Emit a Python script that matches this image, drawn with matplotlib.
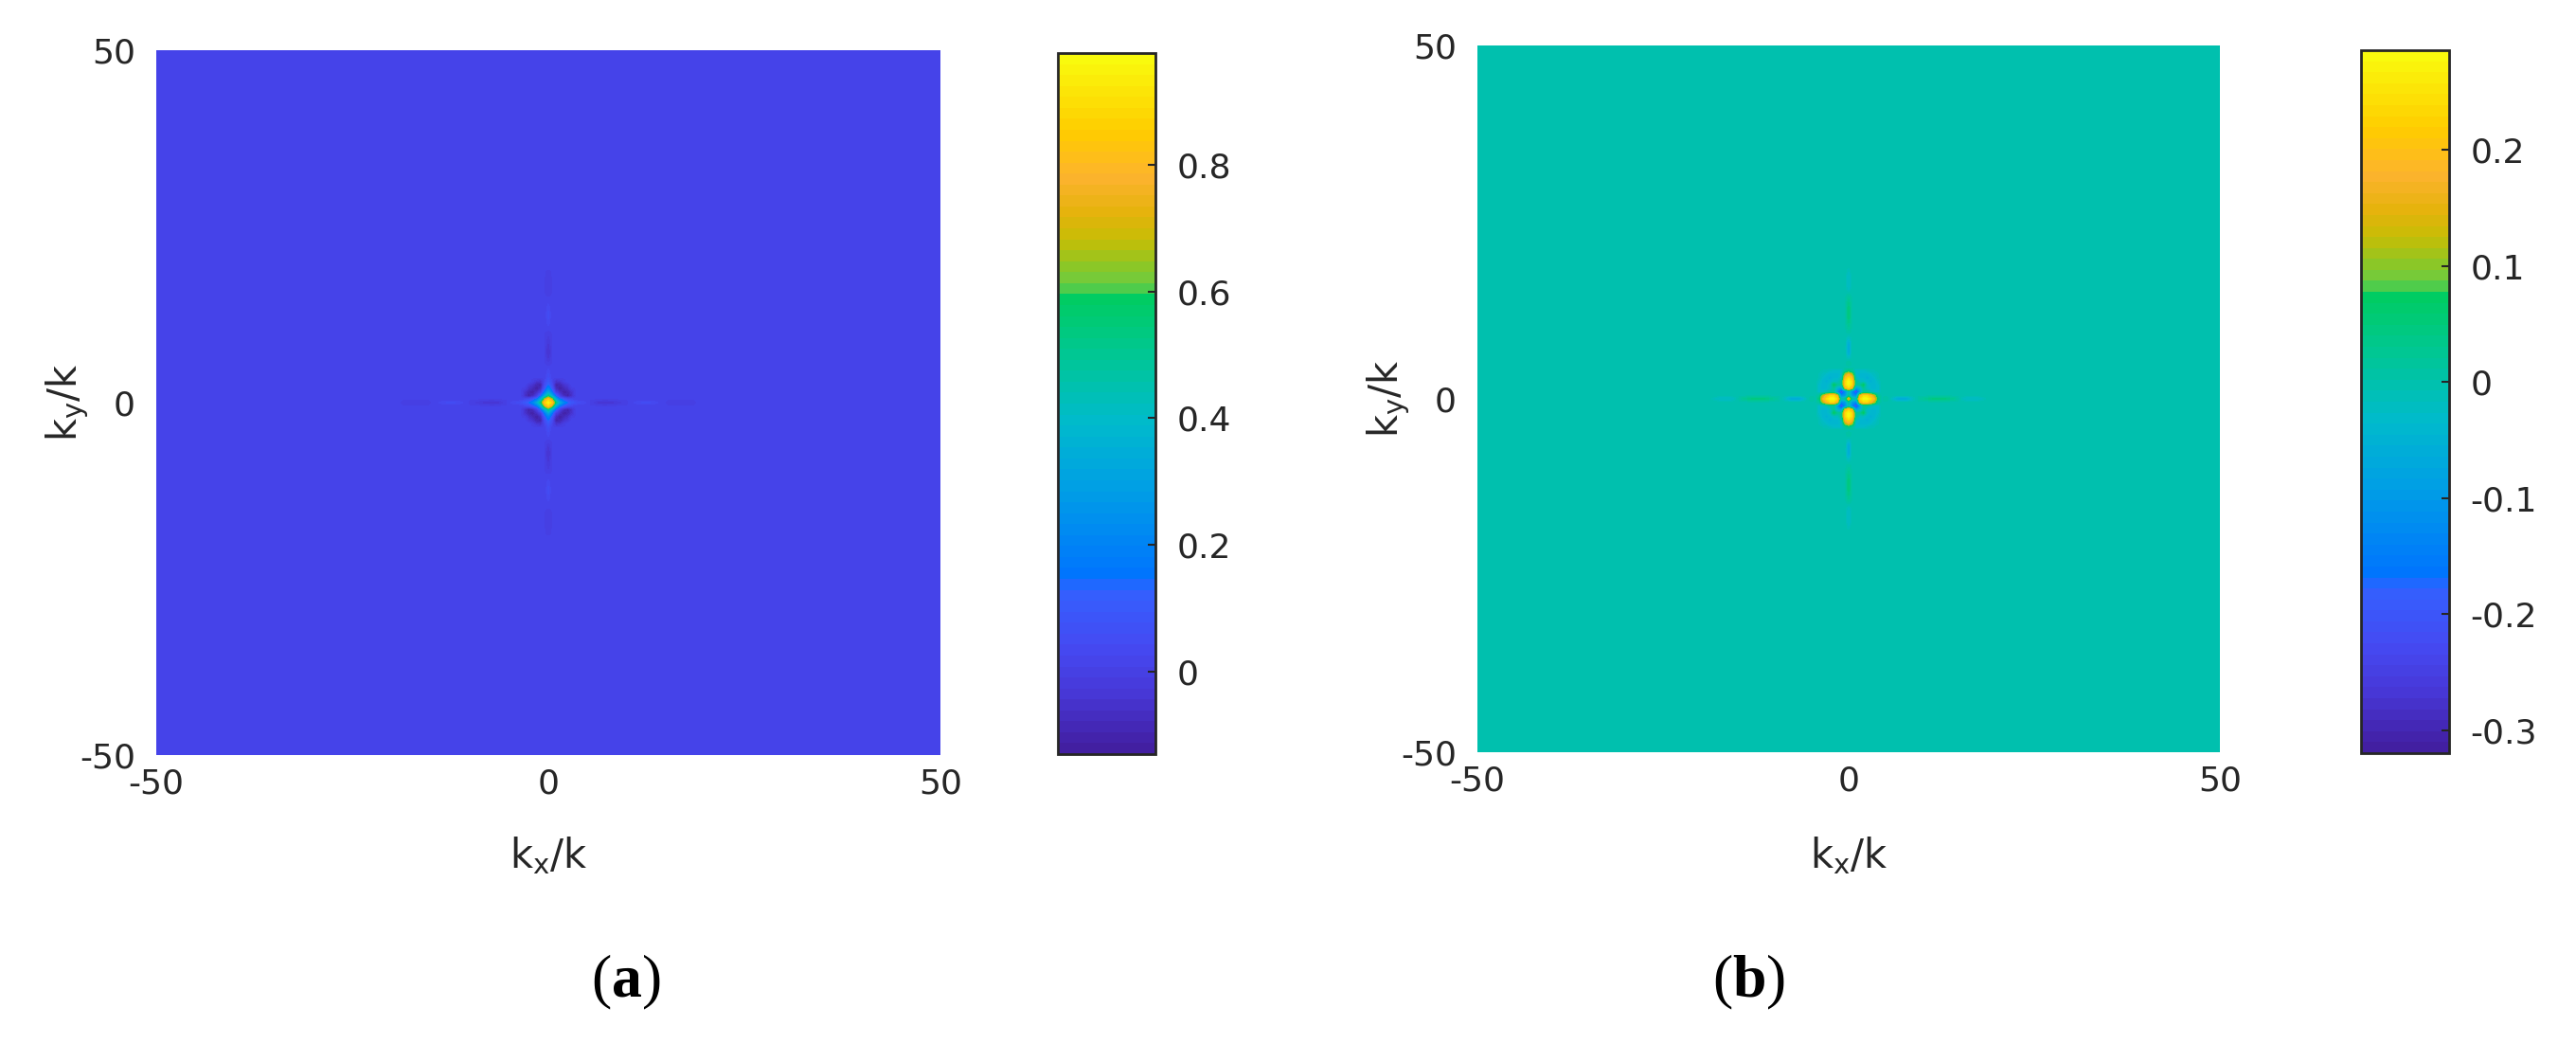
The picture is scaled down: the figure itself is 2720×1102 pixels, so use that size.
import numpy as np
import matplotlib
matplotlib.use('Agg')
import matplotlib.pyplot as plt
from matplotlib.colors import LinearSegmentedColormap

# ---- data ----
step = 0.5                      # grid spacing in k/k units
k_ticks = [-50, 0, 50]

# panel (a): background level, central 13x13 patch (y from +3 to -3), cross arms
bg_a = 0.01
clim_a = (-0.13, 0.976)
cbar_ticks_a = [0, 0.2, 0.4, 0.6, 0.8]
patch_a = [
    [0.02, 0.02, 0.00, -0.04, -0.05, 0.03, 0.10, 0.03, -0.05, -0.04, 0.00, 0.02, 0.02],
    [0.02, -0.02, -0.05, -0.09, -0.10, 0.05, 0.15, 0.05, -0.10, -0.09, -0.05, -0.02, 0.02],
    [0.00, -0.05, -0.08, -0.11, -0.07, 0.10, 0.22, 0.10, -0.07, -0.11, -0.08, -0.05, 0.00],
    [-0.04, -0.09, -0.11, -0.06, 0.00, 0.18, 0.35, 0.18, 0.00, -0.06, -0.11, -0.09, -0.04],
    [-0.05, -0.10, -0.07, 0.00, 0.14, 0.35, 0.55, 0.35, 0.14, 0.00, -0.07, -0.10, -0.05],
    [0.03, 0.05, 0.10, 0.18, 0.35, 0.70, 0.88, 0.70, 0.35, 0.18, 0.10, 0.05, 0.03],
    [0.10, 0.15, 0.22, 0.35, 0.55, 0.88, 0.975, 0.88, 0.55, 0.35, 0.22, 0.15, 0.10],
    [0.03, 0.05, 0.10, 0.18, 0.35, 0.70, 0.88, 0.70, 0.35, 0.18, 0.10, 0.05, 0.03],
    [-0.05, -0.10, -0.07, 0.00, 0.14, 0.35, 0.55, 0.35, 0.14, 0.00, -0.07, -0.10, -0.05],
    [-0.04, -0.09, -0.11, -0.06, 0.00, 0.18, 0.35, 0.18, 0.00, -0.06, -0.11, -0.09, -0.04],
    [0.00, -0.05, -0.08, -0.11, -0.07, 0.10, 0.22, 0.10, -0.07, -0.11, -0.08, -0.05, 0.00],
    [0.02, -0.02, -0.05, -0.09, -0.10, 0.05, 0.15, 0.05, -0.10, -0.09, -0.05, -0.02, 0.02],
    [0.02, 0.02, 0.00, -0.04, -0.05, 0.03, 0.10, 0.03, -0.05, -0.04, 0.00, 0.02, 0.02],
]
arm_pos_a = [3.5, 4.0, 4.5, 5.0, 5.5, 6.0, 6.5, 7.0, 7.5, 8.0, 8.5, 9.0, 9.5, 10.0,
             10.5, 11.0, 11.5, 12.0, 12.5, 13.0, 13.5, 14.0, 14.5, 15.0, 15.5, 16.0,
             16.5, 17.0, 17.5, 18.0, 18.5, 19.0, 19.5, 20.0]
arm_val_a = [0.07, 0.05, 0.04, 0.02, 0.00, -0.02, -0.04, -0.05, -0.05, -0.04, -0.03, -0.02,
             -0.01, 0.00, 0.02, 0.03, 0.04, 0.05, 0.05, 0.05, 0.04, 0.03, 0.02, 0.01, 0.00,
             -0.01, -0.01, -0.01, -0.01, 0.00, 0.00, 0.01, 0.01, 0.01]

# panel (b): central 17x17 patch (y from +4 to -4), cross arms
bg_b = 0.0
clim_b = (-0.32, 0.286)
cbar_ticks_b = [-0.3, -0.2, -0.1, 0, 0.1, 0.2]
patch_b = [
    [0.00, -0.01, -0.01, -0.02, -0.03, -0.03, -0.03, 0.02, 0.05, 0.02, -0.03, -0.03, -0.03, -0.02, -0.01, -0.01, 0.00],
    [-0.01, -0.02, -0.03, -0.04, -0.04, -0.04, -0.03, 0.12, 0.18, 0.12, -0.03, -0.04, -0.04, -0.04, -0.03, -0.02, -0.01],
    [-0.01, -0.03, -0.04, -0.05, -0.04, -0.04, -0.01, 0.19, 0.25, 0.19, -0.01, -0.04, -0.04, -0.05, -0.04, -0.03, -0.01],
    [-0.02, -0.04, -0.05, -0.04, -0.02, -0.02, 0.02, 0.24, 0.285, 0.24, 0.02, -0.02, -0.02, -0.04, -0.05, -0.04, -0.02],
    [-0.03, -0.04, -0.04, -0.02, 0.08, 0.02, 0.02, 0.24, 0.285, 0.24, 0.02, 0.02, 0.08, -0.02, -0.04, -0.04, -0.03],
    [-0.03, -0.04, -0.04, -0.02, 0.02, -0.05, -0.08, 0.17, 0.24, 0.17, -0.08, -0.05, 0.02, -0.02, -0.04, -0.04, -0.03],
    [-0.03, -0.03, -0.01, 0.02, 0.02, -0.08, -0.22, -0.12, 0.00, -0.12, -0.22, -0.08, 0.02, 0.02, -0.01, -0.03, -0.03],
    [0.02, 0.12, 0.19, 0.24, 0.24, 0.17, -0.12, -0.10, 0.03, -0.10, -0.12, 0.17, 0.24, 0.24, 0.19, 0.12, 0.02],
    [0.05, 0.18, 0.25, 0.285, 0.285, 0.24, 0.00, 0.03, 0.19, 0.03, 0.00, 0.24, 0.285, 0.285, 0.25, 0.18, 0.05],
    [0.02, 0.12, 0.19, 0.24, 0.24, 0.17, -0.12, -0.10, 0.03, -0.10, -0.12, 0.17, 0.24, 0.24, 0.19, 0.12, 0.02],
    [-0.03, -0.03, -0.01, 0.02, 0.02, -0.08, -0.22, -0.12, 0.00, -0.12, -0.22, -0.08, 0.02, 0.02, -0.01, -0.03, -0.03],
    [-0.03, -0.04, -0.04, -0.02, 0.02, -0.05, -0.08, 0.17, 0.24, 0.17, -0.08, -0.05, 0.02, -0.02, -0.04, -0.04, -0.03],
    [-0.03, -0.04, -0.04, -0.02, 0.08, 0.02, 0.02, 0.24, 0.285, 0.24, 0.02, 0.02, 0.08, -0.02, -0.04, -0.04, -0.03],
    [-0.02, -0.04, -0.05, -0.04, -0.02, -0.02, 0.02, 0.24, 0.285, 0.24, 0.02, -0.02, -0.02, -0.04, -0.05, -0.04, -0.02],
    [-0.01, -0.03, -0.04, -0.05, -0.04, -0.04, -0.01, 0.19, 0.25, 0.19, -0.01, -0.04, -0.04, -0.05, -0.04, -0.03, -0.01],
    [-0.01, -0.02, -0.03, -0.04, -0.04, -0.04, -0.03, 0.12, 0.18, 0.12, -0.03, -0.04, -0.04, -0.04, -0.03, -0.02, -0.01],
    [0.00, -0.01, -0.01, -0.02, -0.03, -0.03, -0.03, 0.02, 0.05, 0.02, -0.03, -0.03, -0.03, -0.02, -0.01, -0.01, 0.00],
]
arm_pos_b = [4.5, 5.0, 5.5, 6.0, 6.5, 7.0, 7.5, 8.0, 8.5, 9.0, 9.5, 10.0, 10.5, 11.0,
             11.5, 12.0, 12.5, 13.0, 13.5, 14.0, 14.5, 15.0, 15.5, 16.0, 16.5, 17.0,
             17.5, 18.0, 18.5, 19.0]
arm_val_b = [0.00, 0.01, 0.00, -0.03, -0.06, -0.07, -0.07, -0.06, -0.03, -0.01, 0.01, 0.02,
             0.03, 0.04, 0.05, 0.05, 0.05, 0.05, 0.04, 0.03, 0.02, 0.00, -0.02, -0.03,
             -0.03, -0.03, -0.03, -0.02, -0.01, 0.00]

# ---- colormap (parula-like, as it appears in the colour bars) ----
cmap_pts = [
    (0.000, (0.26, 0.12, 0.63)), (0.084, (0.28, 0.22, 0.85)), (0.149, (0.27, 0.29, 0.95)),
    (0.233, (0.20, 0.38, 1.00)), (0.246, (0.00, 0.45, 1.00)), (0.375, (0.00, 0.62, 0.90)),
    (0.473, (0.00, 0.73, 0.80)), (0.570, (0.00, 0.78, 0.58)), (0.655, (0.00, 0.80, 0.38)),
    (0.670, (0.40, 0.80, 0.27)), (0.699, (0.55, 0.78, 0.15)), (0.738, (0.78, 0.74, 0.02)),
    (0.777, (0.90, 0.70, 0.05)), (0.828, (0.99, 0.70, 0.18)), (0.893, (1.00, 0.80, 0.00)),
    (1.000, (0.976, 0.98, 0.05)),
]
parula = LinearSegmentedColormap.from_list('parula_like', cmap_pts, N=64)

plt.rcParams['font.family'] = ['DejaVu Sans']
plt.rcParams['axes.unicode_minus'] = False
plt.rcParams['mathtext.fontset'] = 'custom'
plt.rcParams['mathtext.default'] = 'regular'
plt.rcParams['mathtext.bf'] = 'Liberation Serif:bold'

W, H = 2720, 1102
fig = plt.figure(figsize=(W / 100, H / 100), dpi=100)
txt_col = (0.15, 0.15, 0.15)
fs = 26          # tick labels
fs_lab = 30      # axis labels


def px_rect(x0, y0, x1, y1):
    return [x0 / W, 1 - y1 / H, (x1 - x0) / W, (y1 - y0) / H]


n = int(round(100 / step)) + 1
c = n // 2


def panel(ax_px, cax_px, patch, bg, arm_pos, arm_val, clim, cticks, tag, tag_x):
    field = np.full((n, n), bg)
    p = np.array(patch)
    h = p.shape[0] // 2
    field[c - h:c + h + 1, c - h:c + h + 1] = p
    for pos, v in zip(arm_pos, arm_val):
        k = int(round(pos / step))
        field[c, c + k] = v
        field[c, c - k] = v
        field[c + k, c] = v
        field[c - k, c] = v

    ax = fig.add_axes(px_rect(*ax_px))
    im = ax.imshow(field, extent=[-50, 50, -50, 50], origin='upper', cmap=parula,
                   vmin=clim[0], vmax=clim[1], interpolation='bilinear', aspect='auto')
    ax.set_xticks(k_ticks)
    ax.set_yticks(k_ticks)
    ax.tick_params(axis='x', length=0, pad=10, labelsize=fs, labelcolor=txt_col)
    ax.tick_params(axis='y', length=0, pad=16, labelsize=fs, labelcolor=txt_col)
    for s in ax.spines.values():
        s.set_visible(False)

    x0, y0, x1, y1 = ax_px
    fig.text((x0 + x1) / 2 / W, 1 - 916 / H, 'k$_x$/k', ha='center', va='baseline',
             fontsize=fs_lab, color=txt_col)
    fig.text((x0 - 84) / W, 1 - (y0 + y1) / 2 / H, 'k$_y$/k', ha='center', va='baseline',
             rotation=90, rotation_mode='anchor', fontsize=fs_lab, color=txt_col)

    cax = fig.add_axes(px_rect(*cax_px))
    cb = fig.colorbar(im, cax=cax)
    cb.set_ticks(cticks)
    cb.set_ticklabels(['%g' % t for t in cticks])
    cax.tick_params(direction='in', length=6, width=1.5, color=txt_col, pad=16,
                    labelsize=fs, labelcolor=txt_col)
    cb.outline.set_linewidth(2.0)
    cb.outline.set_edgecolor(txt_col)

    fig.text(tag_x / W, 1 - 1037 / H, '($\\mathbf{' + tag + '}$)', ha='center', va='center',
             fontsize=46, family='Liberation Serif', color='black')


panel((165, 53, 993, 797), (1117, 56, 1220, 796), patch_a, bg_a, arm_pos_a, arm_val_a,
      clim_a, cbar_ticks_a, 'a', 661)
panel((1560, 48, 2344, 794), (2493, 53, 2586, 795), patch_b, bg_b, arm_pos_b, arm_val_b,
      clim_b, cbar_ticks_b, 'b', 1847)

fig.savefig('out.png', dpi=100)
